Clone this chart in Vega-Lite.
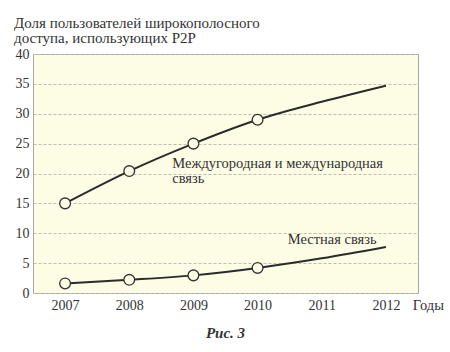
{
  "$schema": "https://vega.github.io/schema/vega-lite/v6.json",
  "width": 385,
  "height": 239,
  "autosize": "none",
  "padding": {"left": 33, "top": 54, "right": 32, "bottom": 59},
  "background": "white",
  "view": {"fill": "#FDFCE5", "stroke": "#A8A8A0", "strokeWidth": 1},
  "config": {
    "title": {"font": "Liberation Serif", "fontWeight": "normal", "subtitleFont": "Liberation Serif"},
    "axis": {"labelFont": "Liberation Serif"}
  },
  "title": {
    "text": "Доля пользователей широкополосного",
    "subtitle": "доступа, использующих P2P",
    "anchor": "start",
    "frame": "group",
    "dx": -19,
    "offset": 1,
    "font": "Liberation Serif",
    "fontSize": 15,
    "fontWeight": "normal",
    "color": "#333333",
    "subtitleFont": "Liberation Serif",
    "subtitleFontSize": 15,
    "subtitleColor": "#333333",
    "subtitlePadding": 0
  },
  "datasets": {
    "series": [
      {"year": 2007, "value": 15.0, "series": "ld"},
      {"year": 2008, "value": 20.4, "series": "ld"},
      {"year": 2009, "value": 25.0, "series": "ld"},
      {"year": 2010, "value": 29.0, "series": "ld"},
      {"year": 2011, "value": 32.0, "series": "ld"},
      {"year": 2012, "value": 34.7, "series": "ld"},
      {"year": 2007, "value": 1.6, "series": "loc"},
      {"year": 2008, "value": 2.2, "series": "loc"},
      {"year": 2009, "value": 2.95, "series": "loc"},
      {"year": 2010, "value": 4.2, "series": "loc"},
      {"year": 2011, "value": 5.8, "series": "loc"},
      {"year": 2012, "value": 7.7, "series": "loc"}
    ],
    "labels": [
      {"year": 2008.67, "value": 21.6, "label": "Междугородная и международная"},
      {"year": 2008.67, "value": 19.0, "label": "связь"},
      {"year": 2010.47, "value": 8.87, "label": "Местная связь"},
      {"year": 2012.42, "value": -2.18, "label": "Годы"}
    ],
    "caption": [
      {"year": 2009.5, "value": -6.7, "label": "Рис. 3"}
    ]
  },
  "encoding": {
    "x": {
      "field": "year", "type": "quantitative",
      "scale": {"domain": [2006.5, 2012.5], "nice": false, "zero": false},
      "axis": {
        "title": null, "values": [2007, 2008, 2009, 2010, 2011, 2012], "format": "d",
        "grid": false, "domain": false, "ticks": false,
        "labelFont": "Liberation Serif", "labelFontSize": 14, "labelColor": "#333333",
        "labelPadding": 5
      }
    },
    "y": {
      "field": "value", "type": "quantitative",
      "scale": {"domain": [0, 40], "nice": false},
      "axis": {
        "title": null, "values": [0, 5, 10, 15, 20, 25, 30, 35, 40], "labelOverlap": false,
        "grid": true, "gridDash": [3, 2], "gridColor": "#BDBDB0", "gridWidth": 1,
        "domain": false, "ticks": false,
        "labelFont": "Liberation Serif", "labelFontSize": 14, "labelColor": "#333333",
        "labelPadding": 4
      }
    }
  },
  "layer": [
    {
      "data": {"name": "series"},
      "mark": {"type": "line", "interpolate": "monotone", "color": "#2B2B2B", "strokeWidth": 2},
      "encoding": {
        "detail": {"field": "series"}
      }
    },
    {
      "data": {"name": "series"},
      "transform": [{"filter": "datum.year <= 2010"}],
      "mark": {"type": "point", "shape": "circle", "filled": false, "fill": "#FDFCE5", "fillOpacity": 1, "stroke": "#333333", "strokeWidth": 1.3, "size": 115, "opacity": 1}
    },
    {
      "data": {"name": "labels"},
      "mark": {"type": "text", "align": "left", "baseline": "middle", "font": "Liberation Serif", "fontSize": 14.5, "color": "#333333", "clip": false},
      "encoding": {
        "text": {"field": "label"}
      }
    },
    {
      "data": {"name": "caption"},
      "mark": {"type": "text", "align": "center", "baseline": "middle", "font": "Liberation Serif", "fontSize": 15, "fontWeight": "bold", "fontStyle": "italic", "color": "#333333", "clip": false},
      "encoding": {
        "text": {"field": "label"}
      }
    }
  ]
}
